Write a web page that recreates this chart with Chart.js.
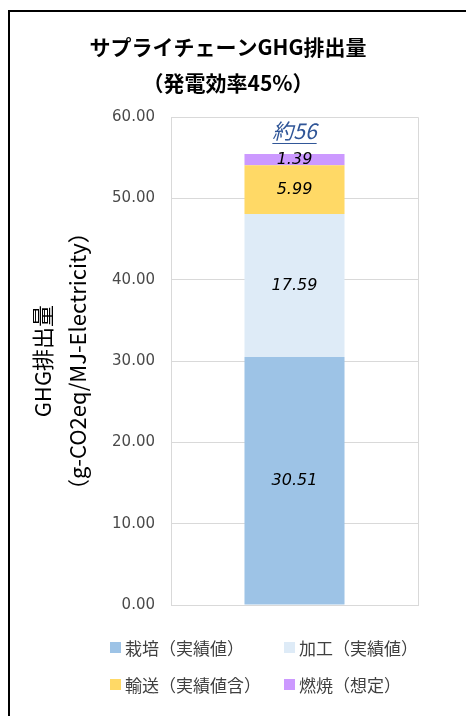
<!DOCTYPE html>
<html>
<head>
<meta charset="utf-8">
<script src="https://cdn.jsdelivr.net/npm/chart.js@4"></script>
<style>
  html, body { margin: 0; padding: 0; background: #fff; overflow: hidden; }
  #frame { position: absolute; left: 8px; top: 10px; width: 520px; height: 780px; border: 2px solid #000; box-sizing: border-box; }
  #wrap { position: absolute; left: 0; top: 0; width: 456px; height: 716px; }
  #legend { position: absolute; left: 110px; top: 629px; display: grid; grid-template-columns: 174px 174px; grid-auto-rows: 37px;
            font-family: "Noto Sans CJK JP", sans-serif; font-size: 17px; color: #404040; }
  #legend div { display: flex; align-items: center; }
  #legend span.box { display: inline-block; width: 11px; height: 11px; margin-right: 4px; }
</style>
</head>
<body>
<div id="frame"></div>
<div id="wrap"><canvas id="ghgChart" width="456" height="716"></canvas></div>
<div id="legend"></div>
<script>
// data
const categories = [""];
const seriesNames = ["栽培（実績値）", "加工（実績値）", "輸送（実績値含）", "燃焼（想定）"];
const cultivation = [30.51];
const processing = [17.59];
const transport = [5.99];
const combustion = [1.39];
const totalLabel = "約56";
const yTicksMax = 60;
const yTicksStep = 10;

const colors = ["#9DC3E6", "#DEEBF7", "#FFD966", "#CC99FF"];
const jpFont = "'Noto Sans CJK JP', sans-serif";

// draws the numbers in each segment plus the "約56" note above the stack
const segmentLabels = {
    id: "segmentLabels",
    afterDatasetsDraw(chart) {
        const ctx = chart.ctx;
        ctx.save();
        ctx.font = "italic 16px 'DejaVu Sans', sans-serif";
        ctx.fillStyle = "#000";
        ctx.textAlign = "center";
        ctx.textBaseline = "middle";
        chart.data.datasets.forEach((ds, i) => {
            chart.getDatasetMeta(i).data.forEach((bar, j) => {
                const mid = (bar.y + bar.base) / 2;
                ctx.fillText(ds.data[j].toFixed(2), bar.x, mid);
            });
        });

        // total note
        const total = chart.data.datasets.reduce((s, ds) => s + ds.data[0], 0);
        const x = chart.getDatasetMeta(0).data[0].x;
        const y = chart.scales.y.getPixelForValue(total) - 23;
        ctx.font = "italic 21px " + jpFont;
        ctx.fillStyle = "#2F5597";
        ctx.fillText(totalLabel, x, y);
        const w = ctx.measureText(totalLabel).width;
        ctx.strokeStyle = "#2F5597";
        ctx.lineWidth = 1;
        ctx.beginPath();
        ctx.moveTo(x - w / 2, y + 12.5);
        ctx.lineTo(x + w / 2, y + 12.5);
        ctx.stroke();
        ctx.restore();
    }
};

const seriesData = [cultivation, processing, transport, combustion];

const ctx = document.getElementById("ghgChart").getContext("2d");
const chart = new Chart(ctx, {
    type: "bar",
    data: {
        labels: categories,
        datasets: seriesNames.map((name, i) => ({
            label: name,
            data: seriesData[i],
            backgroundColor: colors[i],
            borderWidth: 0,
            barPercentage: 0.405,
            categoryPercentage: 1
        }))
    },
    options: {
        responsive: false,
        animation: false,
        layout: { padding: { left: 0, right: 0, top: 0, bottom: 111 } },
        plugins: {
            legend: { display: false },
            tooltip: { enabled: false },
            title: {
                display: true,
                text: ["サプライチェーンGHG排出量", "（発電効率45%）"],
                color: "#000",
                font: { family: jpFont, size: 21, weight: "bold", lineHeight: 1.72 },
                padding: { top: 29, bottom: 16 }
            }
        },
        scales: {
            x: {
                stacked: true,
                offset: true,
                ticks: { display: false },
                grid: { display: true, offset: true, color: "#D9D9D9", drawTicks: false },
                border: { display: true, color: "#D9D9D9" },
                afterFit: scale => { scale.height = 0; }
            },
            y: {
                stacked: true,
                min: 0,
                max: yTicksMax,
                ticks: {
                    stepSize: yTicksStep,
                    padding: 16,
                    color: "#4A4A4A",
                    font: { family: "'DejaVu Sans', sans-serif", size: 15 },
                    callback: v => v.toFixed(2)
                },
                grid: { color: "#D9D9D9", drawTicks: false },
                border: { display: false },
                title: {
                    display: true,
                    text: ["GHG排出量", "（g-CO2eq/MJ-Electricity）"],
                    color: "#000",
                    font: { family: jpFont, size: 22, lineHeight: 1.6 },
                    padding: { top: 25, bottom: 0 }
                },
                afterFit: scale => { scale.width = 171; }
            },
            // empty right-hand axis: keeps the plot's right edge at 418px
            // while the title stays centred on the whole frame
            spacer: {
                position: "right",
                display: true,
                ticks: { display: false },
                grid: { display: false },
                border: { display: false },
                afterFit: scale => { scale.width = 38; }
            }
        }
    },
    plugins: [segmentLabels]
});

// legend laid out in two columns like the original
const legendEl = document.getElementById("legend");
chart.data.datasets.forEach(ds => {
    const item = document.createElement("div");
    item.innerHTML = '<span class="box" style="background:' + ds.backgroundColor + '"></span>' + ds.label;
    legendEl.appendChild(item);
});
</script>
</body>
</html>
